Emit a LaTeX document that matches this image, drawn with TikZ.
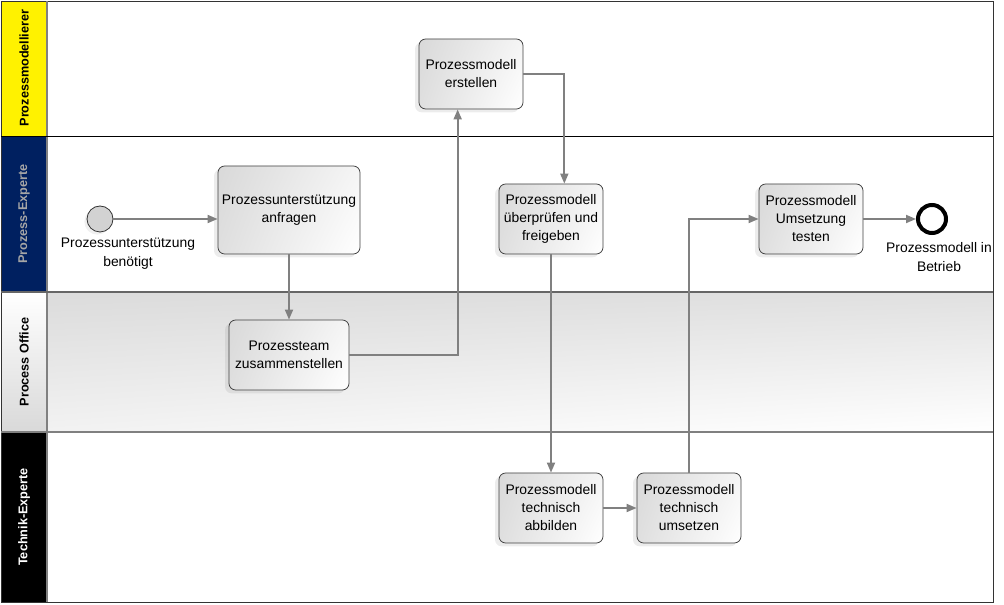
\documentclass[tikz,border=0pt]{standalone}
\usepackage{fontspec}
\setmainfont{Liberation Sans}
\usetikzlibrary{arrows.meta,shadows,shadings}
\definecolor{navylane}{RGB}{0,32,96}
\definecolor{lighttext}{RGB}{166,166,166}
\begin{document}
\begin{tikzpicture}[x=0.75pt,y=-0.75pt,
  lanetitle/.style={rotate=90,font=\bfseries\fontsize{9.5}{11}\selectfont},
  task/.style={draw=black!75,line width=0.6pt,rounded corners=5pt,align=center,
    minimum width=78pt,minimum height=52.5pt,inner sep=2pt,
    upper left=gray!30,upper right=gray!8,lower left=gray!25,lower right=white,
    drop shadow={shadow xshift=-3pt,shadow yshift=-2.5pt,opacity=.15},
    font=\fontsize{10.4}{13.5}\selectfont},
  label/.style={align=center,font=\fontsize{10.4}{14}\selectfont},
  flow/.style={draw=gray,line width=1.3pt,-{Triangle[length=7.5pt,width=6pt]}}]
\useasboundingbox (0,0) rectangle (1004,605);
% lanes
\fill[yellow] (1,1) rectangle (47,136);
\fill[navylane] (1,136) rectangle (47,292);
\shade[top color=white,bottom color=gray!30] (1,292) rectangle (47,432);
\fill[black] (1,432) rectangle (47,602);
\shade[upper left=gray!28,upper right=gray!24,lower left=gray!10,lower right=white] (47,292) rectangle (993,432);
\draw[black!80,line width=0.6pt] (1,1) rectangle (993,602);
\draw[gray,line width=0.8pt] (47,1) -- (47,602);
\draw[black,line width=0.6pt] (1,136) -- (993,136);
\draw[black!60,line width=1.2pt] (1,292) -- (993,292);
\draw[black!50,line width=0.8pt] (1,432) -- (993,432);
\node[lanetitle] (laneA) at (24,68) {Prozessmodellierer};
\node[lanetitle,text=lighttext] (laneB) at (24,214) {Prozess-Experte};
\node[lanetitle] (laneC) at (24,362) {Process Office};
\node[lanetitle,text=white] (laneD) at (24,517) {Technik-Experte};
% events
\node[circle,draw=black!80,line width=0.6pt,fill=gray!35,minimum size=19.5pt,inner sep=0pt,
  drop shadow={shadow xshift=-2pt,shadow yshift=-2pt,opacity=.12}] (start) at (100,219) {};
\node[label] (startlabel) at (128,254) {Prozessunterstützung\\benötigt};
\node[circle,draw=black,line width=3pt,fill=white,minimum size=21pt,inner sep=0pt] (end) at (932,219) {};
\node[label] (endlabel) at (939,257) {Prozessmodell in\\Betrieb};
% tasks
\node[task,minimum width=106.5pt,minimum height=66pt] (anfragen) at (289,210) {Prozessunterstützung\\anfragen};
\node[task,minimum width=90pt] (team) at (289,355) {Prozessteam\\zusammenstellen};
\node[task] (erstellen) at (471,74) {Prozessmodell\\erstellen};
\node[task] (pruefen) at (551,219) {Prozessmodell\\überprüfen und\\freigeben};
\node[task] (testen) at (811,219) {Prozessmodell\\Umsetzung\\testen};
\node[task] (abbilden) at (551,508) {Prozessmodell\\technisch\\abbilden};
\node[task] (umsetzen) at (689,508) {Prozessmodell\\technisch\\umsetzen};
% flows
\draw[flow] (start) -- (start -| anfragen.west);
\draw[flow] (anfragen) -- (team);
\draw[flow] (team.east) -| ([xshift=-10pt]erstellen.south);
\draw[flow] (erstellen.east) -| ([xshift=10pt]pruefen.north);
\draw[flow] (pruefen) -- (abbilden);
\draw[flow] (abbilden) -- (umsetzen);
\draw[flow] (umsetzen.north) |- (testen.west);
\draw[flow] (testen) -- (end);
\end{tikzpicture}
\end{document}
